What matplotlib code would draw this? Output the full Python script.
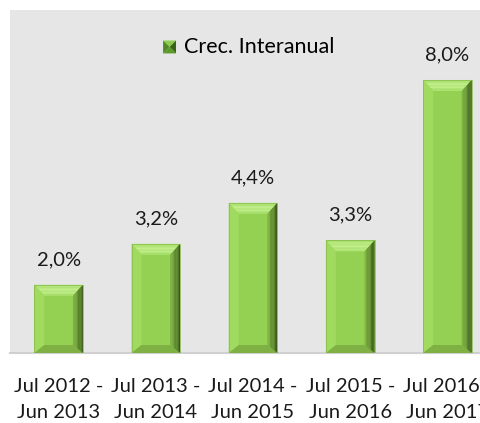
import numpy as np
import matplotlib
matplotlib.use("Agg")
import matplotlib.pyplot as plt
from matplotlib.patches import Polygon, Patch
from matplotlib.legend_handler import HandlerBase
from matplotlib.colors import to_rgb

periods = ["Jul 2012 -\nJun 2013", "Jul 2013 -\nJun 2014", "Jul 2014 -\nJun 2015",
           "Jul 2015 -\nJun 2016", "Jul 2016 -\nJun 2017"]
growth = [2.0, 3.2, 4.4, 3.3, 8.0]
series_name = "Crec. Interanual"

plt.rcParams['font.family'] = ['Lato', 'DejaVu Sans']


def mix(c1, c2, t):
    a, b = np.array(to_rgb(c1)), np.array(to_rgb(c2))
    return tuple(a + (b - a) * t)


class BevelHandler(HandlerBase):
    # small pyramid-like square, like the bevelled bars
    def create_artists(self, legend, orig, xd, yd, w, h, fontsize, trans):
        s = min(w, h)
        x0, y0 = xd, yd + (h - s) / 2
        c = (x0 + s / 2, y0 + s / 2)
        tri = [
            ([(x0, y0 + s), (x0 + s, y0 + s), c], "#8ccd4e"),
            ([(x0, y0), (x0, y0 + s), c], "#4f8a22"),
            ([(x0 + s, y0), (x0 + s, y0 + s), c], "#3a6416"),
            ([(x0, y0), (x0 + s, y0), c], "#5c9a2a"),
        ]
        return [Polygon(p, closed=True, facecolor=col, edgecolor="none", transform=trans)
                for p, col in tri]


W, H = 480, 423
fig = plt.figure(figsize=(W / 100, H / 100), dpi=100)
fig.patch.set_facecolor("white")

# plot area runs past the right edge (chart is cropped in the original)
left, bottom, top = 10, 70, 10
ax_w = 486
ax = fig.add_axes([left / W, bottom / H, ax_w / W, (H - bottom - top) / H])
ax.set_facecolor("#e6e6e6")

x = np.arange(len(growth))
bars = ax.bar(x, growth, width=0.5, color="#94d152", edgecolor="none", zorder=2)
ax.set_xlim(-0.5, len(growth) - 0.5)
ax.set_ylim(0, 10.05)

# pixel scales for the bevel
fig.canvas.draw()
px_x = ax.transData.transform((1, 0))[0] - ax.transData.transform((0, 0))[0]
px_y = ax.transData.transform((0, 1))[1] - ax.transData.transform((0, 0))[1]
bx, by = 10 / px_x, 11 / px_y
bb = 8 / px_y
n = 8

for b in bars:
    x0, w, h = b.get_x(), b.get_width(), b.get_height()
    x1 = x0 + w
    inner = [(x0 + bx, h - by), (x1 - bx, h - by), (x1 - bx, bb), (x0 + bx, bb)]
    # top bevel, light gradient
    for i in range(n):
        t0, t1 = i / n, (i + 1) / n
        pts = [(x0 + bx * t0, h - by * t0), (x1 - bx * t0, h - by * t0),
               (x1 - bx * t1, h - by * t1), (x0 + bx * t1, h - by * t1)]
        ax.add_patch(Polygon(pts, closed=True, facecolor=mix("#a8e06c", "#c2ef8c", np.sin(np.pi * (t0 + t1) / 2)),
                             edgecolor="none", zorder=3))
    ax.add_patch(Polygon([(x0, 0), (x0, h), inner[0], inner[3]], closed=True,
                         facecolor="#a0db5f", edgecolor="none", zorder=3))
    ax.add_patch(Polygon([(x0, 0), (x1, 0), inner[2], inner[3]], closed=True,
                         facecolor="#7eb043", edgecolor="none", zorder=3))
    # right bevel, dark gradient towards the edge
    for i in range(n):
        t0, t1 = i / n, (i + 1) / n
        xa, xb = x1 - bx * t0, x1 - bx * t1
        pts = [(xa, bb * t0), (xa, h - by * t0), (xb, h - by * t1), (xb, bb * t1)]
        ax.add_patch(Polygon(pts, closed=True, facecolor=mix("#2a4211", "#7fb244", t1 ** 0.8),
                             edgecolor="none", zorder=3))
    ax.add_patch(Polygon([(x0, 0), (x1, 0), (x1, h), (x0, h)], closed=True, fill=False,
                         edgecolor="#86b84a", linewidth=0.5, zorder=4))
    ax.annotate(f"{h:.1f}%".replace(".", ","), (b.get_x() + w / 2, h),
                xytext=(0, 18), textcoords="offset points",
                ha="center", va="center", fontsize=14.5, color="#1a1a1a")

for s in ["top", "left", "right"]:
    ax.spines[s].set_visible(False)
ax.spines["bottom"].set_color("#d0d0d0")
ax.spines["bottom"].set_linewidth(1.5)
ax.set_yticks([])
ax.set_xticks(x)
ax.set_xticklabels(periods, fontsize=14.5, color="#1a1a1a")
for lbl in ax.get_xticklabels():
    lbl.set_linespacing(1.62)
ax.tick_params(axis="x", length=0, pad=18)

handle = Patch(facecolor="#5f9a2c")
ax.legend([handle], [series_name], loc="center left", bbox_to_anchor=(0.315, 0.892),
          frameon=False, fontsize=15.5, handlelength=0.6, handleheight=0.6,
          handletextpad=0.35, borderpad=0, borderaxespad=0,
          handler_map={Patch: BevelHandler()})

fig.savefig("out.png", dpi=100, facecolor="white")
